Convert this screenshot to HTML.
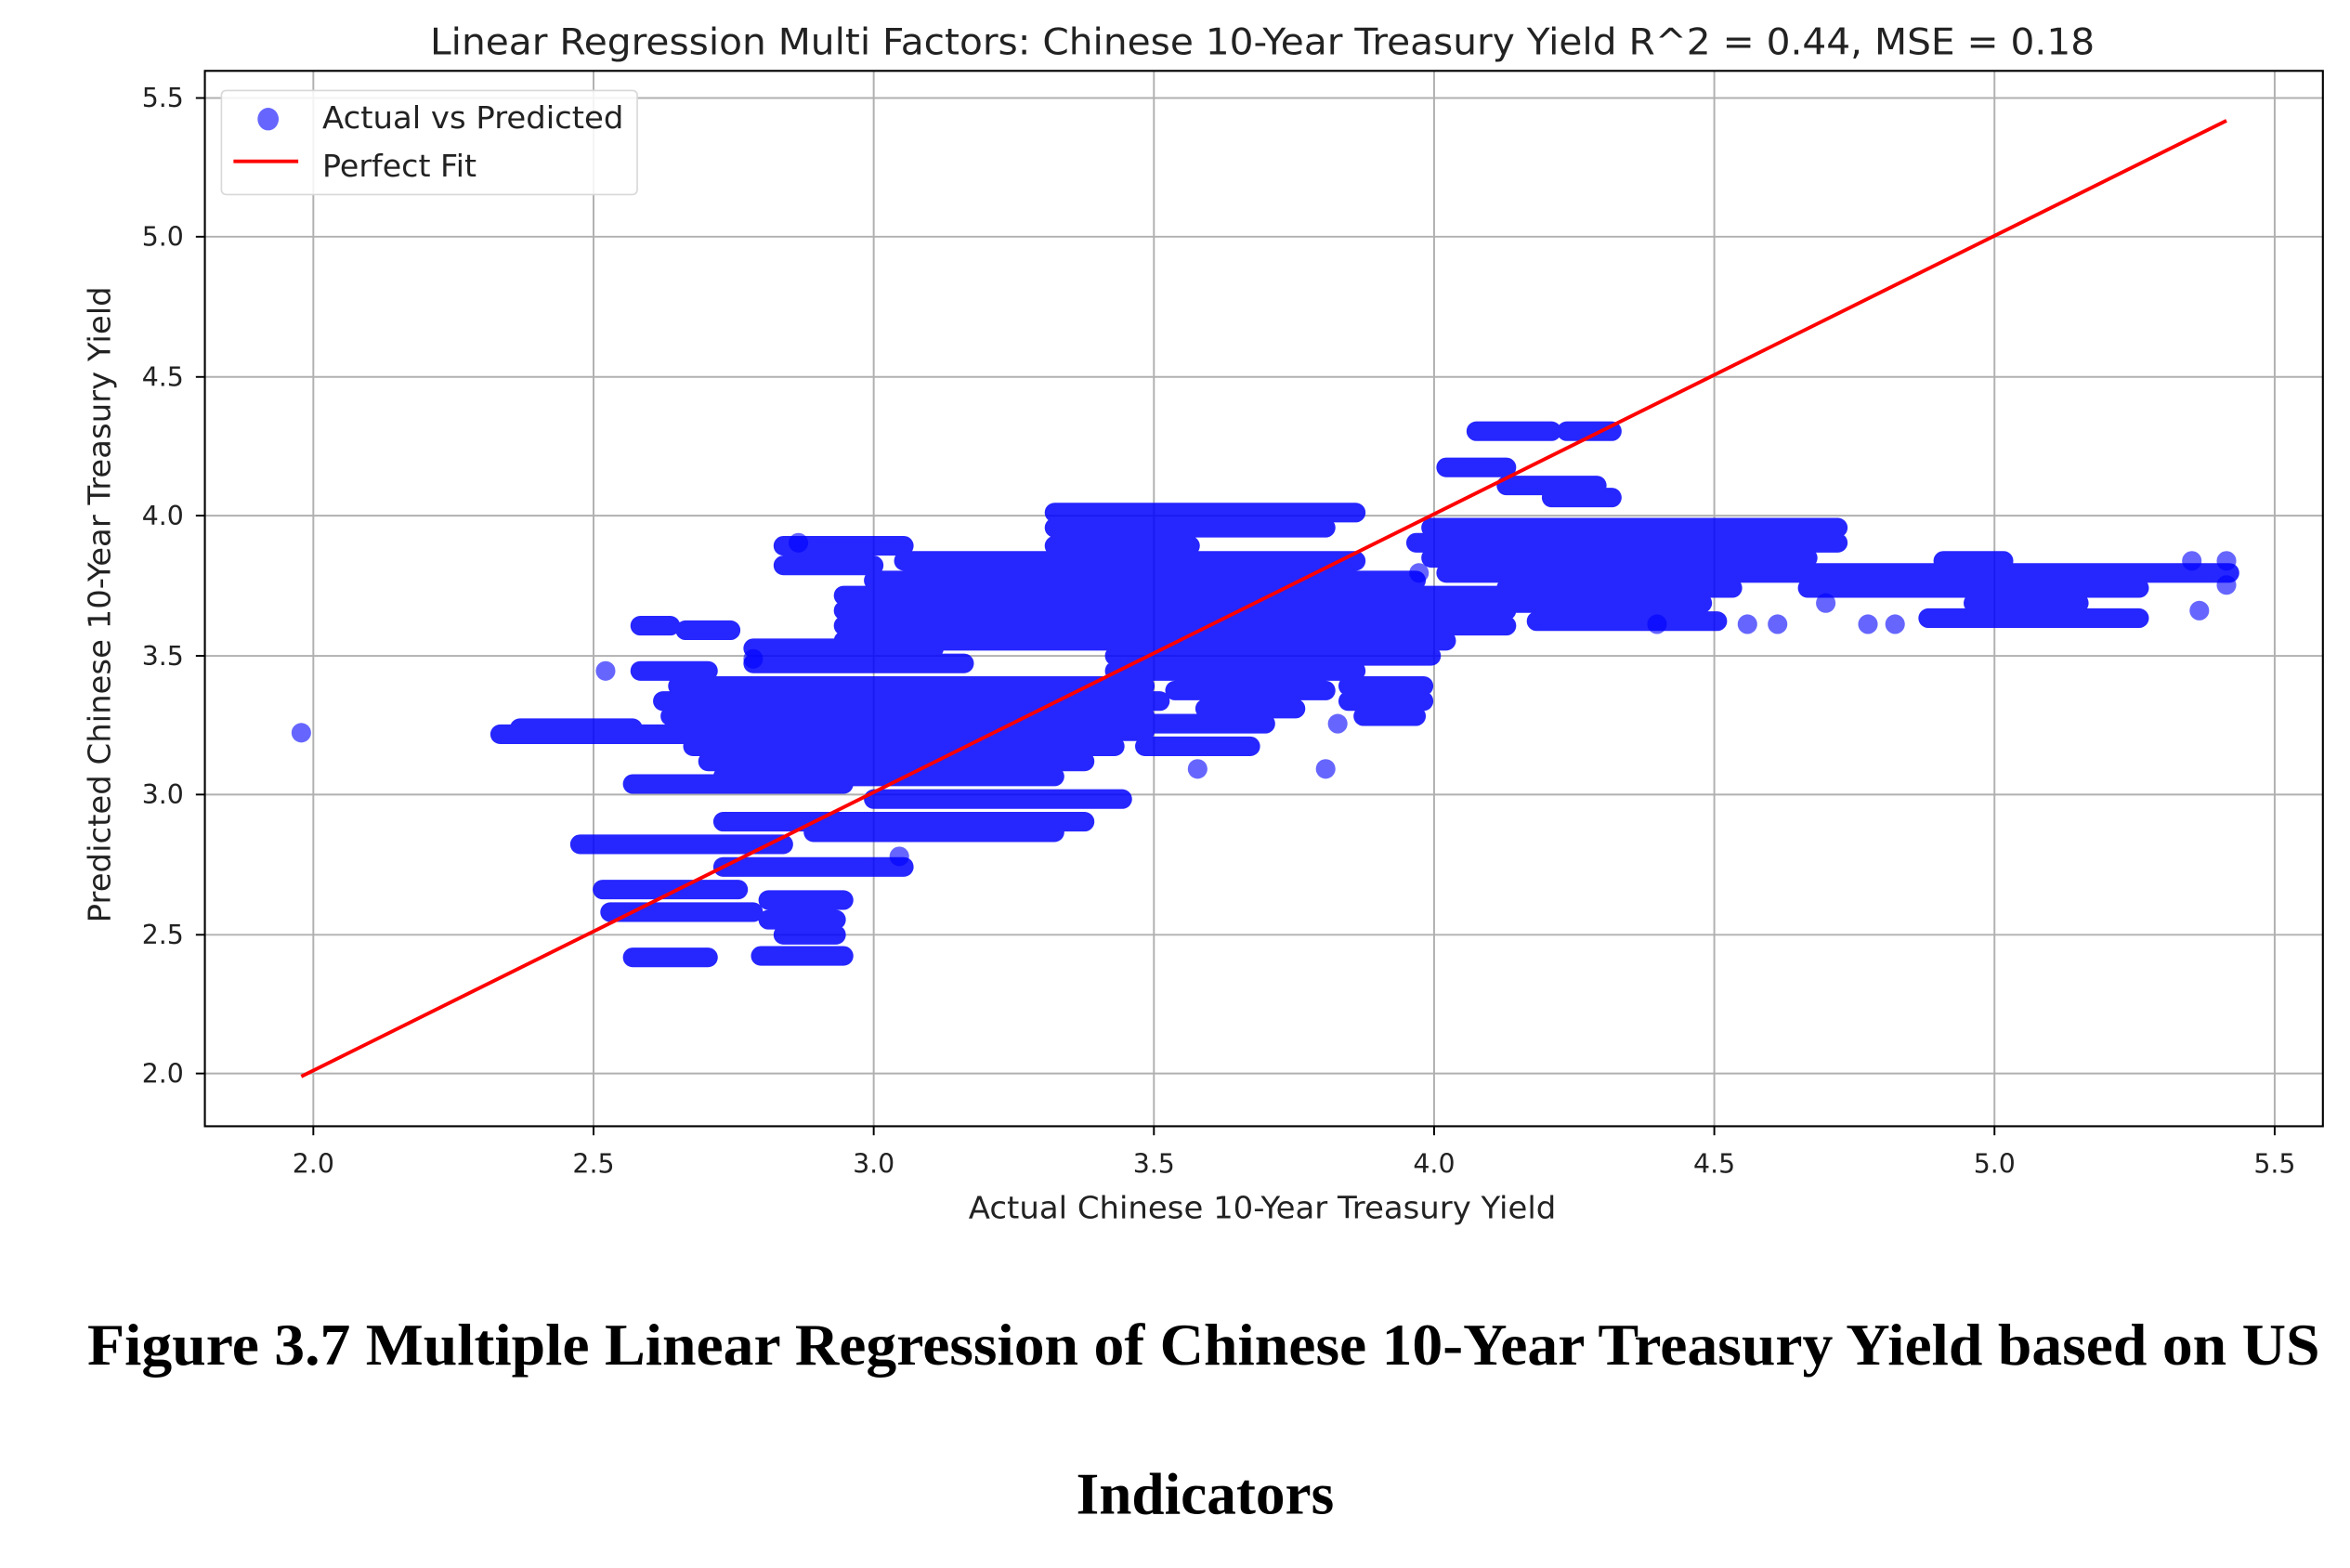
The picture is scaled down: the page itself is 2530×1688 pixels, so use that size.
<!DOCTYPE html>
<html><head><meta charset="utf-8"><style>
html,body{margin:0;padding:0;background:#fff;}
svg{display:block;}
</style></head><body>
<svg width="2530" height="1688" viewBox="0 0 1560 1040" preserveAspectRatio="none" xmlns="http://www.w3.org/2000/svg" font-family="'DejaVu Sans','Liberation Sans',sans-serif">
<rect width="1560" height="1040" fill="#fff"/>
<text x="838" y="36" font-size="24" text-anchor="middle" fill="#222" textLength="1105" lengthAdjust="spacingAndGlyphs">Linear Regression Multi Factors: Chinese 10-Year Treasury Yield R^2 = 0.44, MSE = 0.18</text>
<g stroke="#b0b0b0" stroke-width="1.2">
<line x1="208" y1="47" x2="208" y2="747"/><line x1="394" y1="47" x2="394" y2="747"/><line x1="580" y1="47" x2="580" y2="747"/><line x1="766" y1="47" x2="766" y2="747"/><line x1="952" y1="47" x2="952" y2="747"/><line x1="1138" y1="47" x2="1138" y2="747"/><line x1="1324" y1="47" x2="1324" y2="747"/><line x1="1510" y1="47" x2="1510" y2="747"/>
<line x1="136" y1="65" x2="1542" y2="65"/><line x1="136" y1="157" x2="1542" y2="157"/><line x1="136" y1="250" x2="1542" y2="250"/><line x1="136" y1="342" x2="1542" y2="342"/><line x1="136" y1="435" x2="1542" y2="435"/><line x1="136" y1="527" x2="1542" y2="527"/><line x1="136" y1="620" x2="1542" y2="620"/><line x1="136" y1="712" x2="1542" y2="712"/>
</g>
<g stroke="#0000ff" stroke-opacity="0.85" stroke-width="13" stroke-linecap="round" fill="none">
<path d="M332 487H470M345 483H420M425 445H470M425 415H445M455 418H485M385 560H520M400 590H490M405 605H500M420 635H470M505 634H560M510 597H560M510 610H555M520 620H555M420 520H560M480 575H600M480 545H720M540 552H700M580 530H745M450 455H760M440 465H770M445 475H760M450 485H760M460 495H740M470 505H720M480 515H700M500 440H640M520 362H600M520 375H580M560 395H1000M560 405H1000M560 415H1000M560 425H960M580 385H940M600 372H900M700 340H900M700 350H880M700 362H790M740 435H950M740 445H900M780 458H880M760 480H840M760 495H830M800 470H860M895 455H945M895 465H945M905 475H940M950 350H1220M940 360H1220M950 370H1200M960 380H1200M1000 390H1150M1000 400H1130M1020 412H1140M980 286H1030M1040 286H1070M960 310H1000M1000 322H1060M1030 330H1070M1140 380H1480M1200 390H1420M1290 372H1330M1280 410H1420M1310 400H1380M500 430H620M620 420H700"/>
</g>
<g fill="#0000ff" fill-opacity="0.6">
<circle cx="200" cy="486" r="6.5"/><circle cx="402" cy="445" r="6.5"/><circle cx="1460" cy="405" r="6.5"/><circle cx="1478" cy="372" r="6.5"/><circle cx="1478" cy="388" r="6.5"/><circle cx="1240" cy="414" r="6.5"/><circle cx="1258" cy="414" r="6.5"/><circle cx="1180" cy="414" r="6.5"/><circle cx="1160" cy="414" r="6.5"/><circle cx="1455" cy="372" r="6.5"/><circle cx="880" cy="510" r="6.5"/><circle cx="888" cy="480" r="6.5"/><circle cx="942" cy="380" r="6.5"/><circle cx="597" cy="568" r="6.5"/><circle cx="530" cy="360" r="6.5"/><circle cx="500" cy="437" r="6.5"/><circle cx="795" cy="510" r="6.5"/><circle cx="1212" cy="400" r="6.5"/><circle cx="1100" cy="414" r="6.5"/>
</g>
<line x1="200" y1="714" x2="1478" y2="80" stroke="#ff0000" stroke-width="2.4"/>
<rect x="136" y="47" width="1406" height="700" fill="none" stroke="#000" stroke-width="1.3"/>
<g stroke="#000" stroke-width="1.2">
<line x1="208" y1="747" x2="208" y2="753"/><line x1="394" y1="747" x2="394" y2="753"/><line x1="580" y1="747" x2="580" y2="753"/><line x1="766" y1="747" x2="766" y2="753"/><line x1="952" y1="747" x2="952" y2="753"/><line x1="1138" y1="747" x2="1138" y2="753"/><line x1="1324" y1="747" x2="1324" y2="753"/><line x1="1510" y1="747" x2="1510" y2="753"/>
<line x1="130" y1="65" x2="136" y2="65"/><line x1="130" y1="157" x2="136" y2="157"/><line x1="130" y1="250" x2="136" y2="250"/><line x1="130" y1="342" x2="136" y2="342"/><line x1="130" y1="435" x2="136" y2="435"/><line x1="130" y1="527" x2="136" y2="527"/><line x1="130" y1="620" x2="136" y2="620"/><line x1="130" y1="712" x2="136" y2="712"/>
</g>
<g font-size="17.5" fill="#222" text-anchor="middle">
<text x="208" y="778">2.0</text><text x="394" y="778">2.5</text><text x="580" y="778">3.0</text><text x="766" y="778">3.5</text><text x="952" y="778">4.0</text><text x="1138" y="778">4.5</text><text x="1324" y="778">5.0</text><text x="1510" y="778">5.5</text>
</g>
<g font-size="17.5" fill="#222" text-anchor="end">
<text x="122" y="71">5.5</text><text x="122" y="163">5.0</text><text x="122" y="256">4.5</text><text x="122" y="348">4.0</text><text x="122" y="441">3.5</text><text x="122" y="533">3.0</text><text x="122" y="626">2.5</text><text x="122" y="718">2.0</text>
</g>
<text x="838" y="808" font-size="20.5" text-anchor="middle" fill="#222" textLength="390" lengthAdjust="spacingAndGlyphs">Actual Chinese 10-Year Treasury Yield</text>
<text transform="translate(73,401) rotate(-90)" font-size="20.5" text-anchor="middle" fill="#222" textLength="422" lengthAdjust="spacingAndGlyphs">Predicted Chinese 10-Year Treasury Yield</text>
<rect x="147" y="60" width="276" height="69" rx="3" fill="#fff" fill-opacity="0.85" stroke="#d8d8d8" stroke-width="1"/>
<ellipse cx="178" cy="79" rx="7" ry="7.5" fill="#0000ff" fill-opacity="0.6"/>
<line x1="155" y1="107" x2="198" y2="107" stroke="#ff0000" stroke-width="2.4"/>
<text x="214" y="85" font-size="20.5" fill="#222" textLength="200" lengthAdjust="spacingAndGlyphs">Actual vs Predicted</text>
<text x="214" y="117" font-size="20.5" fill="#222">Perfect Fit</text>
<text x="799" y="905" font-size="39" font-weight="bold" text-anchor="middle" font-family="'Liberation Serif',serif" fill="#000" textLength="1482" lengthAdjust="spacingAndGlyphs">Figure 3.7 Multiple Linear Regression of Chinese 10-Year Treasury Yield based on US</text>
<text x="800" y="1004" font-size="39" font-weight="bold" text-anchor="middle" font-family="'Liberation Serif',serif" fill="#000">Indicators</text>
</svg>
</body></html>
